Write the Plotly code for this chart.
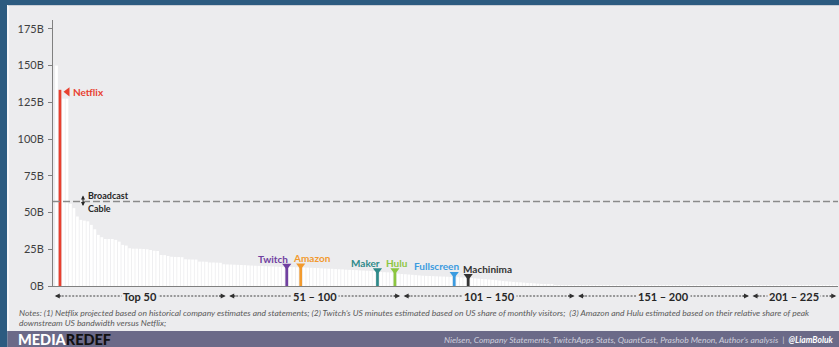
import plotly.graph_objects as go

# Monthly US viewing minutes (billions) for the top 225 TV networks and online video services, by rank
ranks = list(range(1, 226))
minutes_b = [
    # Top 50
    150, 133.5, 127.5, 127.5, 56, 53, 47.3, 45, 44.5, 44,
    41.6, 38.6, 34.8, 33.2, 32, 32, 32, 31.4, 30.2, 28,
    27.5, 25.7, 25.4, 25.4, 25.3, 25.2, 25, 24.5, 24, 23.8,
    21.1, 21, 20.4, 19.9, 19.8, 19.7, 19.6, 18.2, 18.1, 18,
    18, 16.6, 16.6, 16.5, 16, 16, 15.9, 15.8, 14.8, 14.7,
    # 51 - 100
    14.6, 14.5, 14.4, 14.3, 14.2, 14.0, 13.9, 13.8, 13.7, 13.6,
    13.5, 13.4, 13.3, 13.2, 13.1, 13.0, 13.8, 12.9, 12.8, 12.7,
    14.0, 12.6, 12.5, 12.4, 12.3, 12.2, 12.0, 11.9, 11.8, 11.7,
    11.5, 11.4, 11.3, 11.1, 11.0, 10.9, 10.8, 10.6, 10.5, 10.4,
    10.3, 10.2, 10.7, 9.5, 9.4, 9.3, 9.2, 10.7, 8.4, 8.2,
    # 101 - 150
    8.0, 7.8, 7.6, 7.4, 7.2, 7.0, 6.9, 6.8, 6.7, 6.6,
    6.5, 6.4, 6.3, 6.2, 8.2, 6.0, 5.8, 5.7, 6.8, 5.4,
    5.2, 5.0, 4.8, 4.6, 4.4, 4.2, 4.0, 3.7, 3.4, 3.2,
    3.0, 2.8, 2.6, 2.5, 2.3, 2.1, 2.0, 1.8, 1.6, 1.4,
    1.2, 1.0, 0.8, 0.4, 0.4, 0.38, 0.37, 0.36, 0.35, 0.34,
    # 151 - 200
    0.33, 0.32, 0.31, 0.3, 0.3, 0.29, 0.28, 0.27, 0.27, 0.26,
    0.25, 0.25, 0.24, 0.23, 0.23, 0.22, 0.22, 0.21, 0.2, 0.2,
    0.19, 0.19, 0.18, 0.18, 0.17, 0.17, 0.16, 0.16, 0.15, 0.15,
    0.15, 0.14, 0.14, 0.13, 0.13, 0.13, 0.12, 0.12, 0.12, 0.11,
    0.11, 0.11, 0.1, 0.1, 0.1, 0.1, 0.09, 0.09, 0.09, 0.09,
    # 201 - 225
    0.08, 0.08, 0.08, 0.08, 0.08, 0.07, 0.07, 0.07, 0.07, 0.07,
    0.07, 0.06, 0.06, 0.06, 0.06, 0.06, 0.06, 0.06, 0.05, 0.05,
    0.05, 0.05, 0.05, 0.05, 0.05,
]

highlight_names = ["Netflix", "Twitch", "Amazon", "Maker", "Hulu", "Fullscreen", "Machinima"]
highlight_ranks = [2, 67, 71, 93, 98, 115, 119]

broadcast_cable_threshold = 57.5

y_ticks = [0, 25, 50, 75, 100, 125, 150, 175]

group_labels = ["Top 50", "51 \u2013 100", "101 \u2013 150", "151 \u2013 200", "201 \u2013 225"]
group_edges = [0, 50, 100, 150, 200, 225]

notes_lines = [
    "Notes: (1) Netflix projected based on historical company estimates and statements; "
    "(2) Twitch\u2019s US minutes estimated based on US share of monthly visitors;  "
    "(3) Amazon and Hulu estimated based on their relative share of peak",
    "downstream US bandwidth versus Netflix;",
]
source_text = ("Nielsen, Company Statements, TwitchApps Stats, QuantCast, Prashob Menon, "
               "Author\u2019s analysis  |  <b style='color:#ffffff'>@LiamBoluk</b>")

# ---------------------------------------------------------------- styling
W, H = 839, 347
ML, MR, MT, MB = 53, 1, 20, 61
PW, PH = W - ML - MR, H - MT - MB
X_RANGE = [0, 225]
Y_RANGE = [0, 181]
PX_PER_X = PW / (X_RANGE[1] - X_RANGE[0])
PX_PER_Y = PH / (Y_RANGE[1] - Y_RANGE[0])

BG = "#ECECEE"
FRAME = "#2C5B80"
FOOTER = "#6B6A88"
FONT = "Lato, 'Open Sans', sans-serif"
DARK = "#262626"

label_style = {
    "Netflix":    dict(color="#E8402F"),
    "Twitch":     dict(color="#7040A0", dx=-14, dy=7),
    "Amazon":     dict(color="#F29A2E", dx=11, dy=7),
    "Maker":      dict(color="#2E8A8A", dx=-12, dy=7),
    "Hulu":       dict(color="#8CC63F", dx=2, dy=7),
    "Fullscreen": dict(color="#3B9BE0", dx=-18, dy=8),
    "Machinima":  dict(color="#333333", dx=19, dy=7),
}


def px_x(px):
    return (px - ML) / PW


def px_y(py):
    return (H - MB - py) / PH


bar_colors = ["#FFFFFF"] * len(ranks)
for name, r in zip(highlight_names, highlight_ranks):
    bar_colors[ranks.index(r)] = label_style[name]["color"]

fig = go.Figure()
fig.add_trace(go.Bar(
    x=ranks, y=minutes_b, marker=dict(color=bar_colors, line=dict(width=0)),
    hoverinfo="x+y", showlegend=False,
))

# pointer triangles on the highlighted services
for name, r in zip(highlight_names, highlight_ranks):
    v = minutes_b[ranks.index(r)]
    c = label_style[name]["color"]
    if name == "Netflix":
        fig.add_trace(go.Scatter(
            x=[r + 7.5 / PX_PER_X], y=[v - 2 / PX_PER_Y], mode="markers",
            marker=dict(symbol="triangle-left", size=8, color=c),
            showlegend=False, hoverinfo="skip"))
        fig.add_annotation(x=r, y=v, xref="x", yref="y", text="<b>Netflix</b>",
                           xanchor="left", yanchor="middle", xshift=11, yshift=-2,
                           showarrow=False, font=dict(family=FONT, size=10, color=c))
    else:
        st = label_style[name]
        fig.add_trace(go.Scatter(
            x=[r], y=[v], mode="markers",
            marker=dict(symbol="triangle-down", size=8, color=c),
            showlegend=False, hoverinfo="skip"))
        fig.add_annotation(x=r, y=v, xref="x", yref="y", text=f"<b>{name}</b>",
                           xanchor="center", yanchor="middle",
                           xshift=st["dx"], yshift=st["dy"],
                           showarrow=False, font=dict(family=FONT, size=10, color=c))

# broadcast / cable divider
fig.add_shape(type="line", xref="paper", yref="y", x0=0, x1=1,
              y0=broadcast_cable_threshold, y1=broadcast_cable_threshold,
              line=dict(color="#8A8A8A", width=1.6, dash="7px,3px"))
arrow_x = 30 / PX_PER_X
fig.add_annotation(x=arrow_x, y=broadcast_cable_threshold + 6 / PX_PER_Y,
                   ax=arrow_x, ay=broadcast_cable_threshold - 6 / PX_PER_Y,
                   xref="x", yref="y", axref="x", ayref="y", text="",
                   showarrow=True, arrowside="end+start", arrowhead=2, startarrowhead=2,
                   arrowsize=0.8, startarrowsize=0.8, arrowwidth=1, arrowcolor=DARK)
fig.add_annotation(x=arrow_x, y=broadcast_cable_threshold, xref="x", yref="y",
                   text="<b>Broadcast</b>", xanchor="left", yanchor="middle",
                   xshift=3, yshift=6, showarrow=False,
                   font=dict(family=FONT, size=9, color=DARK))
fig.add_annotation(x=arrow_x, y=broadcast_cable_threshold, xref="x", yref="y",
                   text="<b>Cable</b>", xanchor="left", yanchor="middle",
                   xshift=3, yshift=-7, showarrow=False,
                   font=dict(family=FONT, size=9, color=DARK))

# rank group brackets under the axis
row_y = px_y(296)
for lab, lo, hi in zip(group_labels, group_edges[:-1], group_edges[1:]):
    a, b = lo + 0.5, hi - 0.5
    fig.add_shape(type="line", xref="x", yref="paper", x0=a + 1, x1=b - 1, y0=row_y, y1=row_y,
                  line=dict(color="#404040", width=1, dash="2px,1.5px"))
    for tip, shift in ((a, 8), (b, -8)):
        fig.add_annotation(x=tip, y=row_y, ax=shift, ay=0, xref="x", yref="paper",
                           text="", showarrow=True,
                           arrowhead=2, arrowsize=1, arrowwidth=1, arrowcolor="#303030")
    fig.add_annotation(x=(lo + hi) / 2, y=row_y, xref="x", yref="paper",
                       text=f"<b>{lab}</b>", showarrow=False, bgcolor=BG, borderpad=1,
                       xanchor="center", yanchor="middle",
                       font=dict(family=FONT, size=11, color=DARK))

# notes
for i, line in enumerate(notes_lines):
    fig.add_annotation(x=px_x(17), y=px_y(312.5 + 10 * i), xref="paper", yref="paper",
                       text=f"<i>{line}</i>", showarrow=False, xanchor="left", yanchor="middle",
                       font=dict(family=FONT, size=8.5, color="#5A5A5A"))

# frame and footer
fig.add_shape(type="rect", xref="paper", yref="paper", layer="below",
              x0=px_x(0), x1=px_x(7.5), y0=px_y(H), y1=px_y(0),
              fillcolor=FRAME, line=dict(width=0))
fig.add_shape(type="rect", xref="paper", yref="paper", layer="below",
              x0=px_x(0), x1=px_x(W), y0=px_y(5), y1=px_y(0),
              fillcolor=FRAME, line=dict(width=0))
fig.add_shape(type="line", xref="paper", yref="paper", layer="below",
              x0=px_x(8), x1=px_x(8), y0=px_y(331), y1=px_y(5),
              line=dict(color="#F6F6F8", width=2))
fig.add_shape(type="line", xref="paper", yref="paper", layer="below",
              x0=px_x(8), x1=px_x(W), y0=px_y(5.5), y1=px_y(5.5),
              line=dict(color="#C9CED6", width=1))
fig.add_shape(type="rect", xref="paper", yref="paper", layer="below",
              x0=px_x(7.5), x1=px_x(W), y0=px_y(H), y1=px_y(331),
              fillcolor=FOOTER, line=dict(width=0))
fig.add_annotation(x=px_x(16), y=px_y(339.5), xref="paper", yref="paper",
                   text="MEDIA<span style='color:#111111'>REDEF</span>",
                   showarrow=False, xanchor="left", yanchor="middle",
                   font=dict(family=FONT, size=14.5, color="#FFFFFF", weight=900))
fig.add_annotation(x=px_x(836), y=px_y(339.5), xref="paper", yref="paper",
                   text=f"<i>{source_text}</i>", showarrow=False,
                   xanchor="right", yanchor="middle",
                   font=dict(family=FONT, size=8.5, color="#CFCFDC"))

fig.update_layout(
    width=W, height=H,
    margin=dict(l=ML, r=MR, t=MT, b=MB, pad=0),
    paper_bgcolor=BG, plot_bgcolor=BG,
    bargap=0.22,
    font=dict(family=FONT, color="#404040"),
    xaxis=dict(range=X_RANGE, showgrid=False, zeroline=False, showticklabels=False,
               ticks="", showline=True, linecolor="#808080", linewidth=1, fixedrange=True),
    yaxis=dict(range=Y_RANGE, tickvals=y_ticks, ticktext=[f"{t}B" for t in y_ticks],
               showgrid=False, zeroline=False, ticks="outside", ticklen=4,
               tickcolor="#808080", showline=True, linecolor="#808080", linewidth=1,
               ticklabelstandoff=2,
               tickfont=dict(family=FONT, size=11, color="#404040"), fixedrange=True),
)

fig.write_html("out.html")
